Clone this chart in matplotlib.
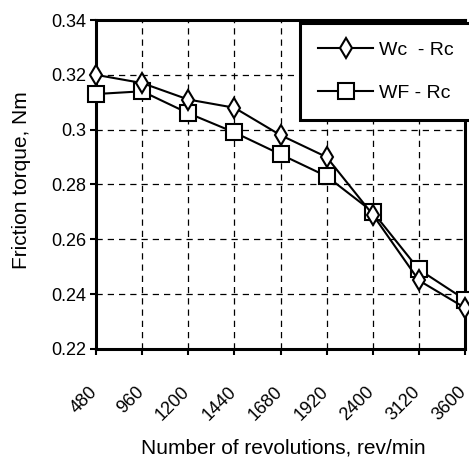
import matplotlib
matplotlib.use('Agg')
import matplotlib.pyplot as plt
from matplotlib.transforms import ScaledTranslation

# 数据
rpm_labels = ['480', '960', '1200', '1440', '1680', '1920', '2400', '3120', '3600']
wc_rc = [0.320, 0.317, 0.311, 0.308, 0.298, 0.290, 0.269, 0.245, 0.235]
wf_rc = [0.313, 0.314, 0.306, 0.299, 0.291, 0.283, 0.270, 0.249, 0.238]

plt.rcParams['font.family'] = ['Liberation Sans', 'DejaVu Sans']
plt.rcParams['font.size'] = 13

fig = plt.figure(figsize=(4.69, 4.59), dpi=100)
ax = fig.add_axes([0.2047, 0.2397, 0.7868, 0.7167])

x = list(range(len(rpm_labels)))
ax.plot(x, wc_rc, color='black', lw=1.5, marker='d', ms=10, mfc='white',
        mec='black', mew=1.5, label='Wc  - Rc', clip_on=False, zorder=4)
ax.plot(x, wf_rc, color='black', lw=1.5, marker='s', ms=11, mfc='white',
        mec='black', mew=1.5, label='WF - Rc', clip_on=False, zorder=3)

ax.set_xlim(0, len(rpm_labels) - 1)
ax.set_ylim(0.22, 0.34)
ax.set_yticks([0.22, 0.24, 0.26, 0.28, 0.30, 0.32, 0.34])
ax.set_yticklabels(['0.22', '0.24', '0.26', '0.28', '0.3', '0.32', '0.34'])
ax.set_xticks(x)
ax.set_xticklabels(rpm_labels, rotation=45, ha='right', va='top',
                   rotation_mode='anchor')

ax.grid(True, color='black', linestyle=(0, (5, 4)), linewidth=0.9)
for s in ax.spines.values():
    s.set_linewidth(2.2)
ax.tick_params(direction='out', length=4, width=1.5, labelsize=13, pad=3)
ax.tick_params(axis='x', pad=18)

# 刻度标签向左下偏移（须在tick_params之后）
offset = ScaledTranslation(-7 / 100, -4 / 100, fig.dpi_scale_trans)
for lab in ax.get_xticklabels():
    lab.set_transform(lab.get_transform() + offset)

ax.set_xlabel('Number of revolutions, rev/min', fontsize=15)
ax.xaxis.set_label_coords(0.507, -0.272)
ax.set_ylabel('Friction torque, Nm', fontsize=15)
ax.yaxis.set_label_coords(-0.175, 0.514)

leg = fig.legend(loc='upper left', bbox_to_anchor=(300 / 469, 1 - 23 / 459),
                 borderaxespad=0, fancybox=False, framealpha=1,
                 edgecolor='black', handlelength=2.8, handletextpad=0.3,
                 labelspacing=1.3, borderpad=0.95, fontsize=14)
leg.get_frame().set_linewidth(2.2)

fig.savefig('out.png', dpi=100)
